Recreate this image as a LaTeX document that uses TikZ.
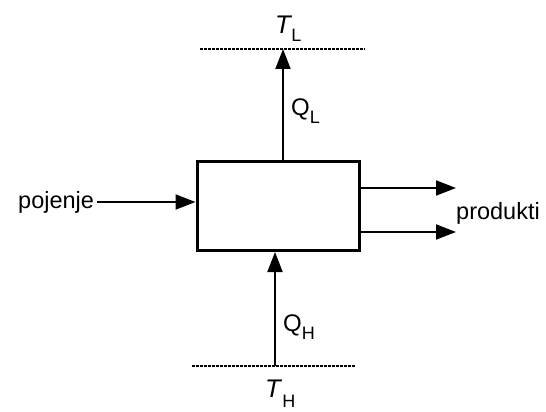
\documentclass[tikz,border=0pt]{standalone}
\usepackage{fontspec}
\setmainfont{Liberation Sans}
\usetikzlibrary{arrows.meta}
\newcommand{\subsc}[2]{\kern#2\raisebox{-8pt}{\fontsize{18}{20}\selectfont #1}}
\begin{document}
\begin{tikzpicture}[x=1pt,y=-1pt,
  lbl/.style={inner sep=0pt,font=\fontsize{23.5}{27}\selectfont},
  ql/.style={inner sep=0pt,font=\fontsize{24}{27}\selectfont},
  flow/.style={line width=1.9pt,-{Triangle[length=20pt,width=15pt]}},
  level/.style={line width=1.2pt,dash pattern=on 2.5pt off 1.5pt}]
\useasboundingbox (0,0) rectangle (546,412);
\node[draw,line width=3pt,minimum width=162pt,minimum height=89pt,inner sep=0pt] (box) at (278,206) {};
% top level
\coordinate (tlL) at (200,49);
\coordinate (tlR) at (365,49);
\draw[level] (tlL) -- (tlR);
\coordinate (tlA) at (283,49);
\draw[flow] (box.north -| tlA) -- (tlA);
\node[ql,anchor=base west] (TL) at (275,34) {\fontsize{25.5}{28}\selectfont\textit{T}\subsc{L}{-1pt}};
\node[ql,anchor=base west] (QL) at (291,115) {Q\subsc{L}{0pt}};
% bottom level
\coordinate (blL) at (192,366);
\coordinate (blR) at (355,366);
\draw[level] (blL) -- (blR);
\coordinate (blA) at (275,366);
\draw[flow] (blA) -- (box.south -| blA);
\node[ql,anchor=base west] (TH) at (265,397) {\fontsize{25.5}{28}\selectfont\textit{T}\kern0pt\raisebox{-10pt}{\fontsize{18}{20}\selectfont H}};
\node[ql,anchor=base west] (QH) at (283,331) {Q\subsc{H}{0pt}};
% feed
\node[lbl,anchor=west] (feed) at (18,202) {pojenje};
\draw[flow] (feed.east) ++(3pt,0) coordinate (fs) -- (fs -| box.west);
% products
\coordinate (p1) at (456,188);
\coordinate (p2) at (456,232);
\draw[flow] (p1 -| box.east) -- (p1);
\draw[flow] (p2 -| box.east) -- (p2);
\node[lbl,anchor=west] (prod) at (456,213) {produkti};
\end{tikzpicture}
\end{document}
